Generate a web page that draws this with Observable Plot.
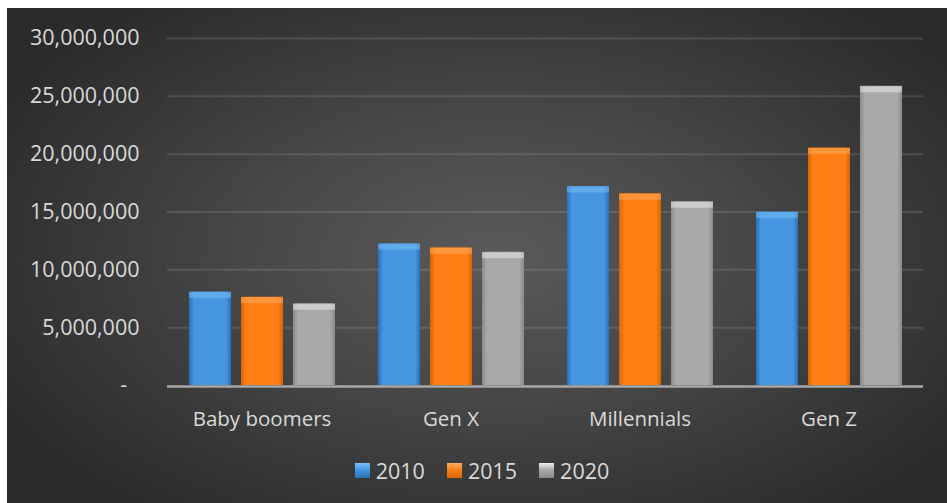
<!DOCTYPE html>
<html>
<head>
<meta charset="utf-8">
<script src="https://cdn.jsdelivr.net/npm/d3@7"></script>
<script src="https://cdn.jsdelivr.net/npm/@observablehq/plot@0.6"></script>
<style>
  html, body { margin: 0; padding: 0; background: #ffffff; }
  #chart {
    position: absolute; left: 7px; top: 8px; width: 940px; height: 495px;
    background: radial-gradient(ellipse 60% 65% at 52% 50%, #5a5a5a 0%, #474747 45%, #2b2b2b 100%);
    font-family: "Open Sans", sans-serif;
    overflow: hidden;
  }
  #legend {
    display: flex; justify-content: center; align-items: center;
    height: 30px; margin-top: 7px; color: #d9d9d9; font-size: 21.5px;
    padding-left: 10px;
  }
  .item { display: flex; align-items: center; margin: 0 11px; }
  .sw { width: 15px; height: 15px; margin-right: 6px; }
</style>
</head>
<body>
<div id="chart"></div>
<script>
const categories = ["Baby boomers", "Gen X", "Millennials", "Gen Z"];
const years = ["2010", "2015", "2020"];
const v2010 = [8090000, 12250000, 17210000, 14990000];
const v2015 = [7630000, 11900000, 16580000, 20530000];
const v2020 = [7060000, 11520000, 15890000, 25870000];
const yTicks = [0, 5000000, 10000000, 15000000, 20000000, 25000000, 30000000];

const seriesValues = [v2010, v2015, v2020];
const data = [];
categories.forEach((c, i) => years.forEach((y, j) => data.push({cat: c, year: y, value: seriesValues[j][i]})));

const palette = {
  "2010": {edge: "#2c6fb8", base: "#4696e2", light: "#7cc0f7"},
  "2015": {edge: "#d86400", base: "#ff7f15", light: "#ffae63"},
  "2020": {edge: "#8a8a8a", base: "#a9a9a9", light: "#f0f0f0"}
};

const fmt = d3.format(",");
const plot = Plot.plot({
  width: 940,
  height: 440,
  marginLeft: 160,
  marginRight: 24,
  marginTop: 30,
  marginBottom: 63,
  style: {background: "transparent", color: "#d9d9d9", fontFamily: "'Open Sans', sans-serif", fontSize: "20.5px"},
  fx: {domain: categories, padding: 0, label: null, axis: "bottom", tickSize: 0, tickPadding: 26},
  x: {domain: years, axis: null, paddingInner: 0.2, paddingOuter: 0.4},
  y: {domain: [0, 30000000], ticks: 6, tickSize: 0, tickPadding: 28, label: null,
      tickFormat: d => d === 0 ? "-\u2007" : fmt(d)},
  color: {domain: years, range: years.map(y => `url(#g${y})`)},
  marks: [
    Plot.ruleY(yTicks.filter(d => d > 0), {stroke: "#ffffff", strokeOpacity: 0.12, strokeWidth: 2}),
    Plot.barY(data, {fx: "cat", x: "year", y: "value", fill: "year"}),
    Plot.tickY(data, {fx: "cat", x: "year", y: "value", stroke: d => palette[d.year].light, strokeWidth: 6, dy: 3, strokeOpacity: 0.5}),
    Plot.ruleY([0], {stroke: "#a8a8a8", strokeWidth: 2.5, dy: 1})
  ]
});

// gradient definitions for the bevelled bars
const defs = d3.select(plot).insert("defs", ":first-child");
years.forEach(y => {
  const p = palette[y];
  const g = defs.append("linearGradient").attr("id", `g${y}`).attr("x1", 0).attr("x2", 1).attr("y1", 0).attr("y2", 0);
  [[0, p.edge], [0.12, p.base], [0.5, p.base], [0.88, p.base], [1, p.edge]].forEach(([o, c]) =>
    g.append("stop").attr("offset", o).attr("stop-color", c));
});
// larger y-axis labels, as in the reference
d3.select(plot).selectAll("[aria-label='y-axis tick label'] text, g[aria-label='y-axis tick label']").style("font-size", "21.5px");

document.getElementById("chart").appendChild(plot);

const legend = document.createElement("div");
legend.id = "legend";
years.forEach(y => {
  const p = palette[y];
  const it = document.createElement("div");
  it.className = "item";
  const sw = document.createElement("div");
  sw.className = "sw";
  sw.style.background = `linear-gradient(180deg, ${p.light} 0%, ${p.base} 45%, ${p.edge} 100%)`;
  const t = document.createElement("span");
  t.textContent = y;
  it.appendChild(sw); it.appendChild(t);
  legend.appendChild(it);
});
document.getElementById("chart").appendChild(legend);
</script>
</body>
</html>
